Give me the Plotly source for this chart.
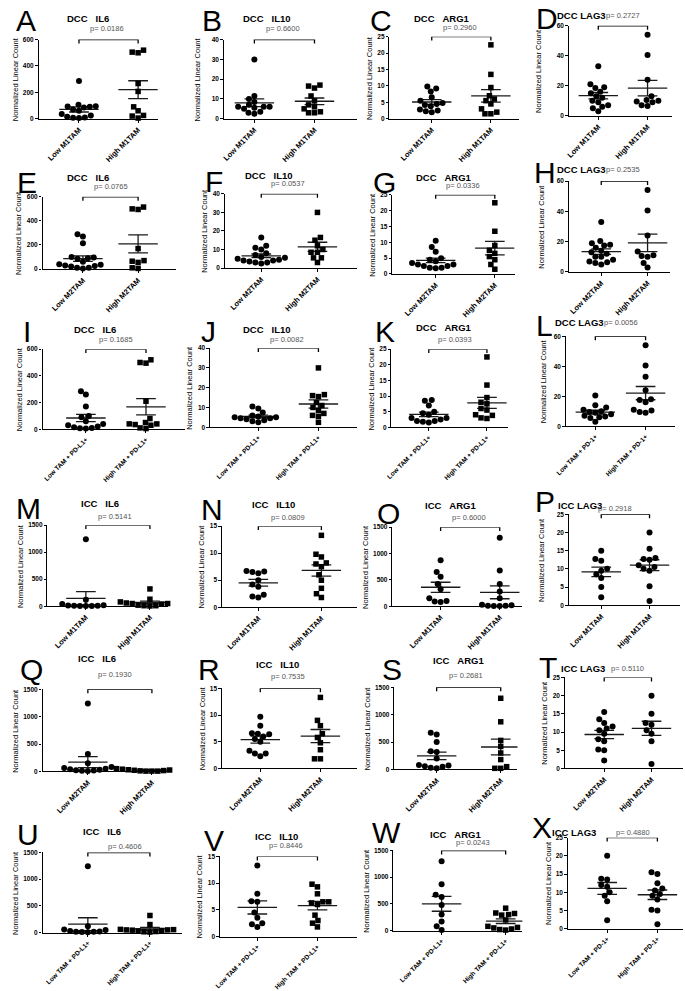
import numpy as np
import plotly.graph_objects as go

# ---- data ----
a_low = [286, 105, 95, 92, 90, 85, 70, 60, 35, 25, 15, 10, 8, 5]
a_high = [520, 505, 500, 267, 207, 90, 60, 25, 20, 5]
b_low = [30, 11.5, 10, 8.5, 7, 6, 6, 6, 5.5, 5, 3, 2.5, 3.5]
b_high = [17, 16.5, 15.5, 11.5, 9, 7, 6, 5, 3.5, 3, 3]
c_low = [9.8, 9.2, 8.3, 6.5, 5.5, 4.8, 4.5, 4.2, 3.8, 2.8, 2.5, 2.3, 2.0]
c_high = [22.5, 13.5, 9.5, 7, 6, 5.5, 4.5, 3, 2, 1.5, 1.5]
d_low = [33, 21, 19, 18.5, 16, 15, 13, 12, 10, 9, 7, 6, 5, 3]
d_high = [54, 40.5, 24, 13, 10.5, 10, 9.5, 9, 7, 6.5]
e_low = [290, 270, 215, 100, 95, 90, 85, 60, 40, 35, 30, 25, 20, 10, 10, 5]
e_high = [515, 500, 495, 170, 70, 65, 55, 10, 5]
f_low = [16.5, 12, 11, 10, 8, 7, 6, 5.5, 5, 4.5, 4, 4, 3.5, 3, 3, 2.5]
f_high = [30, 16.5, 15, 12, 10, 8.5, 8.5, 5.5, 5.5, 3]
g_low = [10.5, 8.5, 7, 5, 4.5, 4, 3.5, 3, 3, 2.5, 2.5, 2, 2, 1.8]
g_high = [22.5, 13.5, 9, 7.5, 6.5, 5.5, 4.5, 3, 1.5]
h_low = [33, 20.5, 19, 18, 17.5, 16, 14, 13, 12, 10, 10, 8, 7, 6.5, 6, 5]
h_high = [54, 40.5, 24, 13.5, 11, 10.5, 10, 6, 3]
i_low = [285, 260, 170, 100, 90, 60, 40, 30, 20, 15, 10, 8, 5]
i_high = [520, 500, 495, 210, 80, 50, 40, 40, 35, 30, 10, 5]
j_low = [10.5, 9.5, 7.5, 6, 5.5, 5, 5, 4.5, 4.5, 4, 3.5, 3, 2.5]
j_high = [30, 16.5, 16, 15.5, 12.5, 11, 10, 8.5, 7, 6, 5.5, 2.5]
k_low = [8.7, 8.5, 7, 5, 4.5, 4, 3, 3, 2.5, 2, 2, 1.8, 1.5]
k_high = [22.5, 13.5, 9.5, 8, 7.5, 6, 5.5, 4, 3.8, 3, 2.8]
l_low = [20.5, 14, 12.5, 11, 10, 9.5, 9, 8, 7, 6.5, 6, 5.5, 3]
l_high = [54, 40.5, 33, 24, 18, 17.5, 16, 11, 10.5, 9.5, 9]
m_low = [1240, 120, 40, 20, 15, 10, 10, 5, 5, 5]
m_high = [320, 130, 80, 70, 60, 50, 50, 40, 20, 10, 10, 5]
n_low = [6.7, 6.6, 6.5, 6.3, 5, 4.2, 3.8, 2.3, 2.0, 1.8]
n_high = [13.3, 9.8, 9.3, 8.2, 8, 7.5, 6, 5, 3.5, 2.5, 1.8]
o_low = [870, 650, 560, 420, 320, 150, 100, 90, 80]
o_high = [1300, 680, 420, 280, 150, 30, 20, 10, 10, 5, 5]
p_low = [15, 12.7, 12.2, 10, 9.5, 8.5, 7.5, 5, 2.2]
p_high = [20, 15.5, 13, 12.7, 12.5, 11, 10.5, 10, 9.5, 5.2, 1.2]
q_low = [1240, 320, 150, 80, 60, 50, 40, 30, 20, 15, 10, 5]
q_high = [50, 45, 40, 30, 30, 25, 20, 15, 10, 5, 5, 5]
r_low = [9.7, 8, 6.6, 6.5, 6.4, 6, 5.5, 5, 3.3, 2.8, 2.8, 2.3]
r_high = [13.3, 9, 8, 6.5, 5.8, 4.8, 3.5, 1.8, 1.8]
s_low = [670, 640, 500, 330, 320, 200, 80, 70, 60, 50, 30, 20]
s_high = [1300, 870, 530, 420, 300, 180, 50, 20, 20]
t_low = [15.5, 13.5, 12.5, 11.5, 11, 10.5, 9.5, 8, 7.5, 5.2, 5, 2.2]
t_high = [20, 15, 12.5, 12, 10.5, 9.5, 7.5, 1.2]
u_low = [1240, 120, 60, 50, 30, 20, 15, 15, 10, 5]
u_high = [320, 150, 60, 55, 50, 50, 45, 40, 30, 20, 15, 10]
v_low = [13.3, 8, 6.6, 6.5, 4.5, 3.5, 2.5, 2.3, 1.8]
v_high = [9.8, 9.3, 8, 6.5, 6.5, 6.3, 6, 4, 3, 2.5, 1.8]
w_low = [1300, 870, 670, 630, 480, 300, 170, 80, 10]
w_high = [420, 330, 320, 300, 290, 200, 80, 60, 50, 30, 20, 10]
x_low = [20, 13.7, 13.5, 12, 11.5, 10, 9, 7.5, 2.3]
x_high = [15.5, 15, 12.5, 11, 10.5, 9.5, 9, 8, 5.2, 5, 1.2]

lows = [a_low, b_low, c_low, d_low, e_low, f_low, g_low, h_low, i_low, j_low, k_low, l_low,
        m_low, n_low, o_low, p_low, q_low, r_low, s_low, t_low, u_low, v_low, w_low, x_low]
highs = [a_high, b_high, c_high, d_high, e_high, f_high, g_high, h_high, i_high, j_high, k_high, l_high,
         m_high, n_high, o_high, p_high, q_high, r_high, s_high, t_high, u_high, v_high, w_high, x_high]

letters = list("ABCDEFGHIJKLMNOPQRSTUVWX")
genes = ["IL6", "IL10", "ARG1", "LAG3"]
cohorts = ["DCC"] * 12 + ["ICC"] * 12
p_values = ["0.0186", "0.6600", "0.2960", "0.2727", "0.0765", "0.0537", "0.0336", "0.2535",
            "0.1685", "0.0082", "0.0393", "0.0056", "0.5141", "0.0809", "0.6000", "0.2918",
            "0.1930", "0.7535", "0.2681", "0.5110", "0.4606", "0.8446", "0.0243", "0.4880"]
row_groups = [["Low M1TAM", "High M1TAM"], ["Low M2TAM", "High M2TAM"],
              ["Low TAM + PD-L1+", "High TAM + PD-L1+"], ["Low M1TAM", "High M1TAM"],
              ["Low M2TAM", "High M2TAM"], ["Low TAM + PD-L1+", "High TAM + PD-L1+"]]
pd1_groups = ["Low TAM + PD-1+", "High TAM + PD-1+"]
y_max = [600, 40, 25, 60, 600, 40, 25, 60, 600, 40, 25, 60,
         1500, 15, 1500, 25, 1500, 15, 1500, 25, 1500, 15, 1500, 25]
y_step = {600: 200, 40: 10, 25: 5, 60: 20, 1500: 500, 15: 5}
high_circle = set("DHLOPTX")

# ---- layout geometry in pixels: y-axis x, low x, high x, axis end x, top y, zero y ----
W, H = 685, 991
geo = [
    (29, 70, 130, 150, 36, 116), (217, 248, 309, 352, 36, 116),
    (385, 428, 488, 517, 33, 116), (567, 597, 647, 672, 22, 113),
    (33, 74, 130, 168, 195, 268), (218, 255, 312, 352, 192, 267),
    (388, 432, 492, 512, 193, 273), (567, 600, 647, 670, 179, 271),
    (33, 77, 138, 178, 349, 430), (203, 252, 313, 352, 348, 428),
    (387, 425, 484, 505, 349, 428), (564, 594, 645, 675, 336, 427),
    (38, 77, 142, 160, 527, 609), (215, 252, 316, 352, 528, 610),
    (388, 437, 497, 520, 529, 609), (567, 600, 649, 680, 516, 608),
    (33, 79, 144, 162, 693, 776), (215, 254, 315, 352, 692, 773),
    (390, 433, 498, 515, 691, 774), (563, 603, 651, 683, 681, 773),
    (33, 79, 142, 175, 858, 939), (213, 251, 312, 352, 862, 943),
    (389, 438, 503, 520, 856, 937), (566, 606, 657, 683, 843, 935),
]
# annotation anchors (px): letter, title, p-value, y-label x
letter_xy = [(16, 17), (205, 17), (377, 17), (545, 15), (17, 181), (207, 179), (380, 181), (543, 170),
             (17, 331), (201, 331), (381, 331), (542, 325), (19, 510), (205, 511), (384, 515), (543, 503),
             (22, 673), (202, 673), (388, 673), (546, 671), (18, 840), (207, 846), (382, 838), (540, 833)]
title_xy = [(79, 15), (261, 15), (438, 15), (580, 12), (79, 175), (263, 173), (440, 175), (580, 167),
            (86, 329), (261, 329), (440, 327), (578, 322), (91, 505), (267, 506), (447, 507), (578, 507),
            (88, 662), (271, 668), (455, 664), (581, 672), (93, 837), (270, 842), (452, 840), (572, 838)]
p_xy = [(98, 25), (277, 25), (457, 24), (622, 12), (102, 185), (282, 182), (460, 184), (622, 167),
        (108, 339), (281, 339), (452, 339), (620, 322), (107, 518), (282, 519), (466, 519), (614, 510),
        (107, 678), (282, 680), (463, 679), (627, 672), (117, 852), (280, 851), (470, 848), (632, 838)]
ylab_x = [7, 190, 371, 537, 15, 200, 380, 539, 16, 193, 367, 541,
          12, 197, 374, 540, 12, 197, 369, 549, 12, 193, 370, 550]

FONT = "Liberation Sans, Arial, sans-serif"
TICK_SIZE = 6.5


def swarm(vals, ky, d=6.0):
    """simple beeswarm: horizontal pixel offsets so markers don't overlap"""
    cands = sorted(np.arange(-40, 40.01, 0.5), key=lambda v: (abs(v), v))
    placed = []
    offs = [0.0] * len(vals)
    for i in sorted(range(len(vals)), key=lambda k: vals[k]):
        y = vals[i] * ky
        for c in cands:
            if all((c - px) ** 2 + (y - py) ** 2 >= d * d for px, py in placed):
                offs[i] = c
                placed.append((c, y))
                break
    return offs


fig = go.Figure()
layout = {}
annotations = []

for i in range(24):
    x0, xl, xh, xe, yt, yb = geo[i]
    sfx = "" if i == 0 else str(i + 1)
    kx = xh - xl
    ymax = y_max[i]
    ky = (yb - yt) / ymax
    xr = [(x0 - xl) / kx, (xe - xl) / kx]
    ticks = row_groups[i // 4]
    if letters[i] in "LX":
        ticks = pd1_groups
    xt_size = 6.5 if "PD" in ticks[0] else 7.5

    # mean +- SEM lines
    lx, ly = [], []
    for g, vals in enumerate([lows[i], highs[i]]):
        arr = np.array(vals, dtype=float)
        m = arr.mean()
        se = arr.std(ddof=1) / np.sqrt(len(arr))
        hm, hs = 20 / kx, 10 / kx
        lx += [g - hm, g + hm, None, g - hs, g + hs, None, g - hs, g + hs, None, g, g, None]
        ly += [m, m, None, m + se, m + se, None, m - se, m - se, None, m - se, m + se, None]
    fig.add_trace(go.Scatter(x=lx, y=ly, mode="lines", line=dict(color="#1a1a1a", width=1.3),
                             xaxis="x" + sfx, yaxis="y" + sfx, hoverinfo="skip", cliponaxis=False))

    # points
    for g, vals in enumerate([lows[i], highs[i]]):
        offs = swarm(vals, ky)
        sym = "circle" if (g == 0 or letters[i] in high_circle) else "square"
        fig.add_trace(go.Scatter(
            x=[g + o / kx for o in offs], y=vals, mode="markers",
            marker=dict(symbol=sym, size=6 if sym == "circle" else 5.5, color="black",
                        line=dict(width=0)),
            xaxis="x" + sfx, yaxis="y" + sfx, cliponaxis=False))

    # significance bracket
    tick = 4 / ky
    fig.add_trace(go.Scatter(x=[0, 0, 1, 1], y=[ymax - tick, ymax, ymax, ymax - tick], mode="lines",
                             line=dict(color="black", width=1.3), xaxis="x" + sfx, yaxis="y" + sfx,
                             cliponaxis=False, hoverinfo="skip"))

    layout["xaxis" + sfx] = dict(
        domain=[x0 / W, xe / W], anchor="y" + sfx, range=xr, showgrid=False, zeroline=False,
        showline=True, linecolor="black", linewidth=1.1, ticks="outside", ticklen=3,
        tickcolor="black", tickvals=[0, 1], ticktext=ticks, tickangle=-45,
        tickfont=dict(family=FONT, size=xt_size, color="black", weight="bold"))
    layout["yaxis" + sfx] = dict(
        domain=[1 - yb / H, 1 - yt / H], anchor="x" + sfx, range=[0, ymax * 1.0001],
        showgrid=False, zeroline=False, showline=True, linecolor="black", linewidth=1.1,
        ticks="outside", ticklen=2.5, tickcolor="black",
        tickvals=list(range(0, ymax + 1, y_step[ymax])),
        tickfont=dict(family=FONT, size=TICK_SIZE, color="black", weight="bold"))

    # texts
    lxp, lyp = letter_xy[i]
    annotations.append(dict(text=letters[i], x=lxp / W, y=1 - lyp / H, xref="paper", yref="paper",
                            showarrow=False, font=dict(family=FONT, size=30, color="black"),
                            xanchor="center", yanchor="middle"))
    sep = "\u00a0" if genes[i % 4] == "LAG3" else "\u00a0\u00a0\u00a0"
    txp, typ = title_xy[i]
    annotations.append(dict(text="<b>" + cohorts[i] + sep + genes[i % 4] + "</b>", x=txp / W, y=1 - typ / H,
                            xref="paper", yref="paper", showarrow=False,
                            font=dict(family=FONT, size=9.5, color="black"),
                            xanchor="center", yanchor="middle"))
    pxp, pyp = p_xy[i]
    annotations.append(dict(text="p= " + p_values[i], x=pxp / W, y=1 - pyp / H, xref="paper", yref="paper",
                            showarrow=False, font=dict(family=FONT, size=7.5, color="#555555"),
                            xanchor="center", yanchor="middle"))
    ndig = len(str(ymax))
    yl = min(ylab_x[i], x0 - 9 - ndig * 0.556 * TICK_SIZE - 4)
    annotations.append(dict(text="Normalized Linear Count", x=yl / W, y=1 - (yt + yb) / 2 / H,
                            xref="paper", yref="paper", showarrow=False, textangle=-90,
                            font=dict(family=FONT, size=7.5, color="black"),
                            xanchor="center", yanchor="middle"))

fig.update_layout(**layout)
fig.update_layout(
    width=W, height=H, margin=dict(l=0, r=0, t=0, b=0),
    paper_bgcolor="white", plot_bgcolor="white", showlegend=False,
    annotations=annotations,
)

fig.write_html("out.html", config={"displayModeBar": False},
               post_script="document.body.style.margin='0px';")
